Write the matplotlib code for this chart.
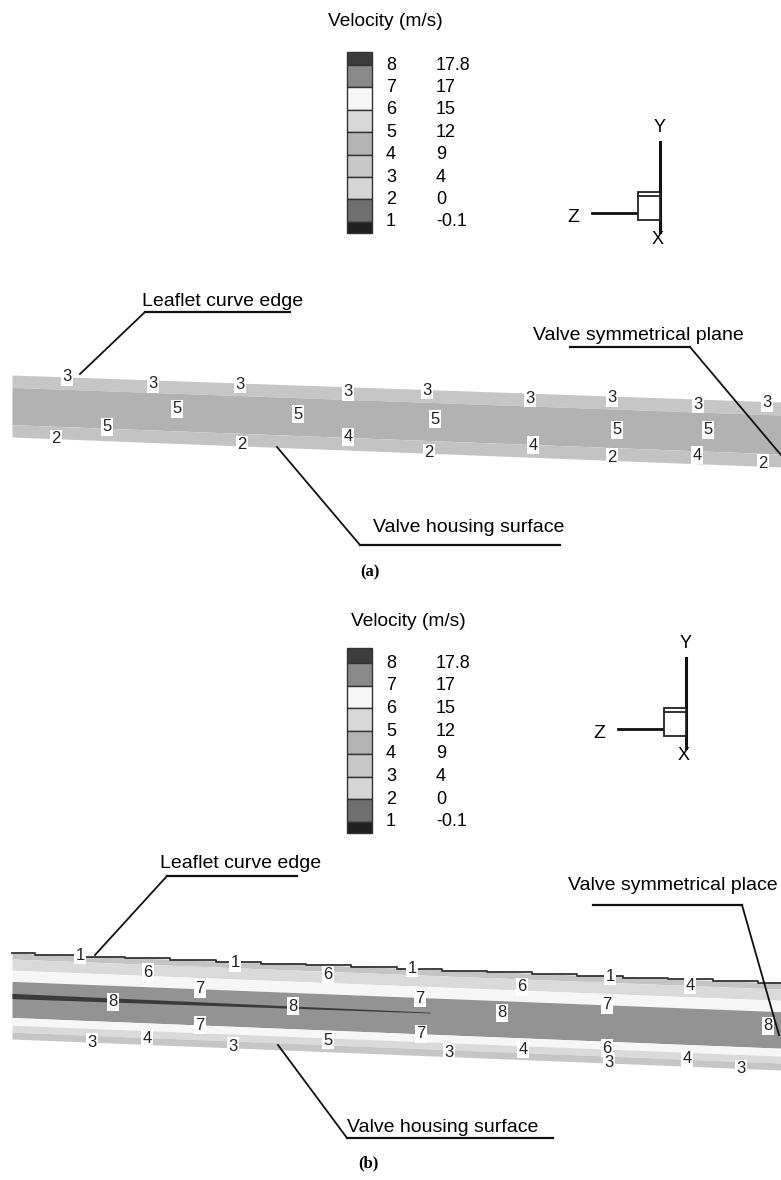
import numpy as np
import matplotlib.pyplot as plt
from matplotlib.patches import Rectangle

plt.rcParams['font.family'] = ['Liberation Sans', 'DejaVu Sans']

W, H = 781, 1180

# colour legend, shared by both panels
legend_levels = ['8', '7', '6', '5', '4', '3', '2', '1']
legend_values = ['17.8', '17', '15', '12', '9', '4', '0', '-0.1']
# shades from above level 8 down to below level 1
legend_shades = ['#3c3c3c', '#8a8a8a', '#f6f6f6', '#d8d8d8', '#b4b4b4',
                 '#c8c8c8', '#d5d5d5', '#6f6f6f', '#1e1e1e']

# panel (a): strips across the band (fraction of thickness) and their shades
a_strip_edges = [0.0, 0.2, 0.8, 1.0]
a_strip_shades = ['#c6c6c6', '#b2b2b2', '#c3c3c3']
# contour labels: level, position along band, fraction across band
a_lab_level = ['3'] * 9 + ['5'] * 6 + ['2'] * 5 + ['4'] * 3
a_lab_x = [67, 153, 240, 348, 427, 530, 612, 698, 767,
           107, 177, 298, 435, 617, 708,
           56, 242, 429, 612, 763,
           348, 533, 697]
a_lab_f = [0.0, 0.06, 0.02, 0.08, 0.01, 0.08, 0.03, 0.08, 0.02,
           0.78, 0.45, 0.46, 0.46, 0.52, 0.47,
           1.0, 0.98, 0.99, 0.95, 0.95,
           0.79, 0.81, 0.87]

# panel (b)
b_strip_edges = [0.0, 0.07, 0.2, 0.33, 0.75, 0.84, 0.92, 1.0]
b_strip_shades = ['#c4c4c4', '#dadada', '#f6f6f6', '#939393',
                  '#f6f6f6', '#dadada', '#c6c6c6']
b_lab_level = (['1'] * 4 + ['4'] + ['6'] * 3 + ['7'] * 3 + ['8'] * 4
               + ['7'] * 2 + ['6'] + ['5'] + ['4'] * 3 + ['3'] * 5)
b_lab_x = [80, 235, 412, 610,
           690,
           148, 328, 522,
           200, 420, 607,
           113, 293, 502, 768,
           200, 421,
           607,
           328,
           147, 523, 687,
           92, 233, 449, 609, 741]
b_lab_f = [0.0, 0.015, 0.0, 0.0,
           0.065,
           0.16, 0.11, 0.16,
           0.33, 0.34, 0.33,
           0.52, 0.49, 0.47, 0.5,
           0.75, 0.75,
           0.83,
           0.87,
           0.93, 0.88, 0.91,
           1.0, 0.98, 0.95, 0.99, 1.0]


def band_edges(x, top, bot):
    t = np.interp(x, [12, W], top)
    b = np.interp(x, [12, W], bot)
    return t, b


def draw_band(ax, top, bot, edges, shades, lev, lx, lf):
    x = np.linspace(12, W, 100)
    t, b = band_edges(x, top, bot)
    for k, c in enumerate(shades):
        ax.fill_between(x, t + (b - t) * edges[k], t + (b - t) * edges[k + 1],
                        color=c, lw=0, zorder=1)
    for s, xx, f in zip(lev, lx, lf):
        tt, bb = band_edges(xx, top, bot)
        ax.text(xx, tt + (bb - tt) * f, s, fontsize=12, ha='center', va='center',
                color='#222222', zorder=5,
                bbox=dict(boxstyle='square,pad=0.08', fc='white', ec='none'))


def draw_legend(ax, title_x, title_y, y_top, y_first, step):
    ax.text(title_x, title_y, 'Velocity (m/s)', fontsize=13.8, ha='center', va='center')
    bx, bw = 347, 25
    bounds = [y_top] + [y_first + i * step for i in range(8)] + [y_first + 7 * step + step / 2]
    for k, c in enumerate(legend_shades):
        ax.add_patch(Rectangle((bx, bounds[k]), bw, bounds[k + 1] - bounds[k],
                               fc=c, ec='#333333', lw=1.0, zorder=3))
    for i, (lv, vv) in enumerate(zip(legend_levels, legend_values)):
        y = y_first + i * step
        ax.text(391, y, lv, fontsize=13, ha='center', va='center')
        ax.text(436, y, vv, fontsize=13, ha='left', va='center')


def draw_triad(ax, x, y_box):
    ax.plot([x, x], [y_box - 50, y_box + 30], color='#111111', lw=2.2)
    ax.plot([x, x], [y_box + 32, y_box + 40], color='#111111', lw=2.2)
    ax.add_patch(Rectangle((x - 22, y_box), 22, 28, fc='white', ec='#222222', lw=1.3, zorder=3))
    ax.plot([x - 22, x], [y_box + 4, y_box + 4], color='#222222', lw=1.3, zorder=4)
    ax.plot([x - 68, x - 22], [y_box + 21, y_box + 21], color='#111111', lw=2.0)
    ax.text(x, y_box - 64, 'Y', fontsize=13, ha='center', va='center')
    ax.text(x - 87, y_box + 26, 'Z', fontsize=14, ha='center', va='center')
    ax.text(x - 2, y_box + 48, 'X', fontsize=13, ha='center', va='center')


def callout(ax, text, tx, ty, under, leader):
    ax.text(tx, ty, text, fontsize=14, ha='left', va='center', zorder=6)
    ax.plot(under[0], under[1], color='#111111', lw=1.6, zorder=6)
    ax.plot(leader[0], leader[1], color='#111111', lw=1.3, zorder=6)


fig = plt.figure(figsize=(W / 100, H / 100), dpi=100)
ax = fig.add_axes([0, 0, 1, 1])
ax.set_xlim(0, W)
ax.set_ylim(H, 0)
ax.axis('off')

# ---- panel (a)
draw_legend(ax, 385, 22, 52, 65, 22.4)
draw_triad(ax, 660, 192)
draw_band(ax, [375, 402], [437, 467], a_strip_edges, a_strip_shades,
          a_lab_level, a_lab_x, a_lab_f)
callout(ax, 'Leaflet curve edge', 142, 302, ([145, 290], [312, 312]), ([145, 80], [312, 374]))
callout(ax, 'Valve symmetrical plane', 533, 335, ([570, 690], [347, 347]), ([690, 781], [347, 455]))
callout(ax, 'Valve housing surface', 373, 527, ([360, 560], [545, 545]), ([360, 277], [545, 447]))
ax.text(370, 572, '(a)', fontsize=12, fontweight='bold', family='Liberation Serif',
        ha='center', va='center')

# ---- panel (b)
draw_legend(ax, 408, 622, 648, 663, 22.7)
draw_triad(ax, 686, 708)
b_top, b_bot = [953, 983], [1039, 1070]
draw_band(ax, b_top, b_bot, b_strip_edges, b_strip_shades,
          b_lab_level, b_lab_x, b_lab_f)
# stepped contour line of level 1 along the leaflet edge
xs = np.linspace(12, W, 18)
ts, _ = band_edges(xs, b_top, b_bot)
ax.step(xs, ts, where='mid', color='#333333', lw=1.3, zorder=2)
# thin dark core (level 8) fading out mid-way
xc = np.linspace(12, 430, 40)
tc, bc = band_edges(xc, b_top, b_bot)
mid = tc + (bc - tc) * 0.5
half = np.interp(xc, [12, 430], [2.6, 0.4])
ax.fill_between(xc, mid - half, mid + half, color='#3a3a3a', lw=0, zorder=2)
callout(ax, 'Leaflet curve edge', 160, 863, ([167, 297], [876, 876]), ([167, 95], [876, 955]))
callout(ax, 'Valve symmetrical place', 568, 885, ([593, 742], [905, 905]), ([742, 779], [905, 1035]))
callout(ax, 'Valve housing surface', 347, 1127, ([347, 553], [1138, 1138]), ([347, 278], [1138, 1045]))
ax.text(368, 1163, '(b)', fontsize=12, fontweight='bold', family='Liberation Serif',
        ha='center', va='center')

fig.savefig('out.png', dpi=100)
